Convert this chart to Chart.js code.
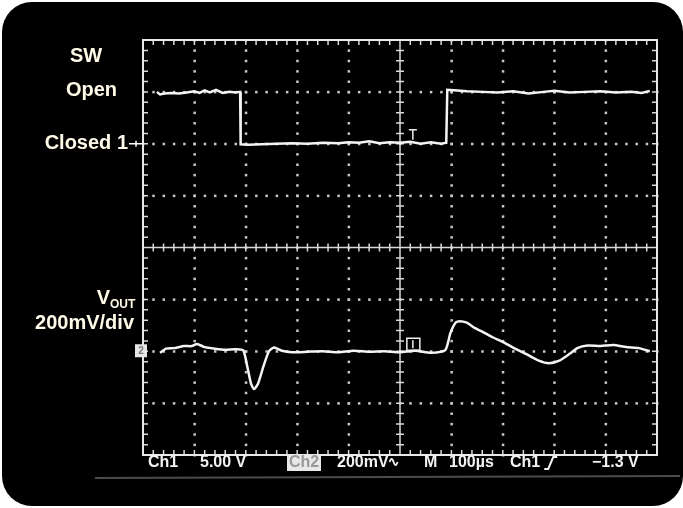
<!DOCTYPE html>
<html>
<head>
<meta charset="utf-8">
<script src="https://cdn.jsdelivr.net/npm/chart.js@4"></script>
<style>
  html, body { margin: 0; padding: 0; background: #fff; }
  #wrap { position: relative; width: 683px; height: 508px; }
</style>
</head>
<body>
<div id="wrap"><canvas id="myChart"></canvas></div>
<script>
// time in divisions (0..10), amplitude in divisions (-4..4)
var ch1T = [0.27, 0.33, 0.42, 0.55, 0.7, 0.85, 1.0, 1.1, 1.2, 1.3, 1.42, 1.55, 1.68, 1.8, 1.89,
            1.9, 2.05, 2.3, 2.6, 2.9, 3.2, 3.5, 3.8, 4.0, 4.2, 4.4, 4.6, 4.8, 5.0, 5.2, 5.4, 5.6, 5.8, 5.9,
            5.92, 6.05, 6.3, 6.6, 6.9, 7.2, 7.5, 7.8, 8.0, 8.3, 8.6, 8.9, 9.2, 9.5, 9.7, 9.86];
var ch1V = [3.0, 2.95, 2.97, 2.98, 2.97, 2.99, 3.01, 2.98, 3.03, 2.99, 3.04, 2.98, 3.0, 2.99, 3.0,
            1.99, 1.98, 1.99, 2.0, 2.01, 2.0, 2.02, 2.01, 2.03, 2.02, 2.05, 2.01, 2.03, 2.02, 2.04, 2.0, 2.03, 2.0, 2.02,
            3.04, 3.03, 3.01, 3.0, 2.99, 3.01, 2.97, 3.0, 3.02, 2.99, 3.0, 3.01, 2.99, 3.0, 2.98, 3.02];

var ch2T = [0.33, 0.45, 0.6, 0.8, 0.95, 1.05, 1.2, 1.4, 1.6, 1.8, 1.95,
            2.03, 2.1, 2.16, 2.24, 2.34, 2.45, 2.55, 2.7, 2.9, 3.2, 3.5, 3.8, 4.1, 4.4, 4.7, 5.0, 5.3, 5.6, 5.88,
            5.98, 6.08, 6.16, 6.3, 6.45, 6.6, 6.8, 7.0, 7.2, 7.45, 7.7, 7.9, 8.1, 8.3, 8.45, 8.65, 8.9, 9.15, 9.4, 9.65, 9.86];
var ch2V = [-2.03, -1.95, -1.94, -1.9, -1.9, -1.86, -1.92, -1.95, -1.97, -1.96, -1.98,
            -2.3, -2.62, -2.73, -2.62, -2.3, -2.0, -1.93, -1.99, -2.02, -2.01, -2.0, -2.02, -1.99, -2.01, -2.0, -2.02, -1.99, -2.03, -1.98,
            -1.65, -1.45, -1.42, -1.45, -1.55, -1.62, -1.73, -1.82, -1.93, -2.05, -2.18, -2.23, -2.18, -2.05, -1.94, -1.89, -1.9, -1.88, -1.92, -1.94, -2.0];

function pts(t, v) {
    var out = [];
    for (var i = 0; i < t.length; i++) out.push({ x: t[i], y: v[i] });
    return out;
}

var scope = {
    id: 'scope',
    beforeDraw: function(chart) {
        var c = chart.ctx, w = chart.width, h = chart.height, r = 30;
        c.save();
        c.fillStyle = '#fff';
        c.fillRect(0, 0, w, h);
        c.fillStyle = '#000';
        c.beginPath();
        c.moveTo(2 + r, 2);
        c.arcTo(w, 2, w, h - 2, r);
        c.arcTo(w, h - 2, 2, h - 2, r);
        c.arcTo(2, h - 2, 2, 2, r);
        c.arcTo(2, 2, w, 2, r);
        c.closePath();
        c.fill();
        // bezel line under status row
        c.strokeStyle = 'rgba(150,150,150,0.5)';
        c.lineWidth = 2;
        c.beginPath(); c.moveTo(95, 478); c.lineTo(680, 476); c.stroke();
        c.restore();
    },
    beforeDatasetsDraw: function(chart) {
        var c = chart.ctx, a = chart.chartArea;
        var xs = chart.scales.x, ys = chart.scales.y;
        var i, j, px, py;
        c.save();
        // dotted grid
        c.fillStyle = '#c8c8c8';
        for (i = 1; i < 10; i++) {
            if (i === 5) continue;
            px = xs.getPixelForValue(i);
            for (j = -20; j <= 20; j++) {
                py = ys.getPixelForValue(j / 5);
                c.fillRect(px - 1, py - 1, 2.5, 2.5);
            }
        }
        for (i = -3; i <= 3; i++) {
            if (i === 0) continue;
            py = ys.getPixelForValue(i);
            for (j = 0; j <= 50; j++) {
                px = xs.getPixelForValue(j / 5);
                c.fillRect(px - 1, py - 1, 2.5, 2.5);
            }
        }
        // center axes with minor ticks
        var cx = xs.getPixelForValue(5), cy = ys.getPixelForValue(0);
        c.strokeStyle = '#d8d8d8';
        c.lineWidth = 1.5;
        c.beginPath();
        c.moveTo(cx, a.top); c.lineTo(cx, a.bottom);
        c.moveTo(a.left, cy); c.lineTo(a.right, cy);
        for (j = 0; j <= 50; j++) {
            px = xs.getPixelForValue(j / 5);
            c.moveTo(px, cy - 4); c.lineTo(px, cy + 4);
            c.moveTo(px, a.top); c.lineTo(px, a.top + 5);
            c.moveTo(px, a.bottom); c.lineTo(px, a.bottom - 5);
        }
        for (j = -20; j <= 20; j++) {
            py = ys.getPixelForValue(j / 5);
            c.moveTo(cx - 4, py); c.lineTo(cx + 4, py);
            c.moveTo(a.left, py); c.lineTo(a.left + 5, py);
            c.moveTo(a.right, py); c.lineTo(a.right - 5, py);
        }
        c.stroke();
        // frame
        c.strokeStyle = '#e8e8e8';
        c.lineWidth = 2;
        c.strokeRect(a.left, a.top, a.right - a.left, a.bottom - a.top);
        c.restore();
    },
    afterDraw: function(chart) {
        var c = chart.ctx, a = chart.chartArea;
        var xs = chart.scales.x, ys = chart.scales.y;
        c.save();
        // left labels
        c.fillStyle = '#fffbe8';
        c.font = 'bold 20px "Liberation Sans", Arial, sans-serif';
        c.textBaseline = 'middle';
        c.textAlign = 'center';
        c.fillText('SW', 86, 56);
        c.textAlign = 'right';
        c.fillText('Open', 117, 90);
        c.fillText('Closed 1', 128, 143);
        c.fillText('200mV/div', 134, 323);
        c.fillText('V', 110, 298);
        c.font = 'bold 12px "Liberation Sans", Arial, sans-serif';
        c.textAlign = 'left';
        c.fillText('OUT', 110, 305);
        // ch1 arrow
        var y1 = ys.getPixelForValue(2);
        c.strokeStyle = '#fff';
        c.lineWidth = 1.5;
        c.beginPath();
        c.moveTo(129, y1); c.lineTo(a.left, y1);
        c.moveTo(136, y1 - 3); c.lineTo(136, y1 + 3);
        c.stroke();
        // ch2 ground marker
        var y2 = ys.getPixelForValue(-2);
        c.fillStyle = '#e6e6e6';
        c.fillRect(135, y2 - 7, 12, 13);
        c.fillStyle = '#777';
        c.font = 'bold 10px "Liberation Sans", Arial, sans-serif';
        c.textAlign = 'center';
        c.fillText('2', 141, y2);
        // trigger markers
        var tx = xs.getPixelForValue(5.25);
        c.strokeStyle = '#f0f0f0';
        c.lineWidth = 1.5;
        c.beginPath();
        c.moveTo(tx - 4, y1 - 14); c.lineTo(tx + 4, y1 - 14);
        c.moveTo(tx, y1 - 14); c.lineTo(tx, y1 - 4);
        c.stroke();
        c.strokeRect(tx - 6, y2 - 13, 13, 12);
        c.beginPath(); c.moveTo(tx, y2 - 11); c.lineTo(tx, y2 - 3); c.stroke();
        // status row
        var sf = 'bold 16px "Liberation Sans", Arial, sans-serif';
        c.fillStyle = '#f2f2f2';
        c.font = sf;
        c.textAlign = 'left';
        c.textBaseline = 'middle';
        var sy = 463;
        c.fillText('Ch1', 148, sy);
        c.fillText('5.00 V', 200, sy);
        c.fillStyle = '#e8e8e8';
        c.fillRect(287, sy - 8, 34, 16);
        c.fillStyle = '#9a9a9a';
        c.fillText('Ch2', 289, sy);
        c.fillStyle = '#f2f2f2';
        c.fillText('200mV', 337, sy);
        var mvEnd = 337 + c.measureText('200mV').width;
        c.strokeStyle = '#f2f2f2';
        c.lineWidth = 1.8;
        c.beginPath();
        c.moveTo(mvEnd + 1, sy - 1);
        c.quadraticCurveTo(mvEnd + 3, sy - 7, mvEnd + 5, sy - 1);
        c.quadraticCurveTo(mvEnd + 7, sy + 5, mvEnd + 9, sy - 1);
        c.stroke();
        c.fillText('M', 424, sy);
        c.fillText('100\u00B5s', 449, sy);
        c.fillText('Ch1', 510, sy);
        var ch1End = 510 + c.measureText('Ch1').width + 4;
        c.lineWidth = 2;
        c.beginPath();
        c.moveTo(ch1End, sy + 6); c.lineTo(ch1End + 4, sy + 6); c.lineTo(ch1End + 9, sy - 6); c.lineTo(ch1End + 13, sy - 6);
        c.stroke();
        c.fillText('\u22121.3 V', 592, sy);
        c.restore();
    }
};

var ctx = document.getElementById('myChart');
var myChart = new Chart(ctx, {
    type: 'line',
    data: {
        datasets: [{
            label: 'SW',
            data: pts(ch1T, ch1V),
            borderColor: '#f4f4f4',
            borderWidth: 2.5,
            pointRadius: 0,
            tension: 0
        }, {
            label: 'VOUT',
            data: pts(ch2T, ch2V),
            borderColor: '#f4f4f4',
            borderWidth: 2.5,
            pointRadius: 0,
            tension: 0.2
        }]
    },
    options: {
        responsive: true,
        maintainAspectRatio: false,
        animation: false,
        layout: { padding: { left: 143, right: 26, top: 40, bottom: 53 } },
        plugins: { legend: { display: false }, tooltip: { enabled: false } },
        scales: {
            x: { type: 'linear', min: 0, max: 10, display: false },
            y: { type: 'linear', min: -4, max: 4, display: false }
        }
    },
    plugins: [scope]
});
</script>
</body>
</html>
